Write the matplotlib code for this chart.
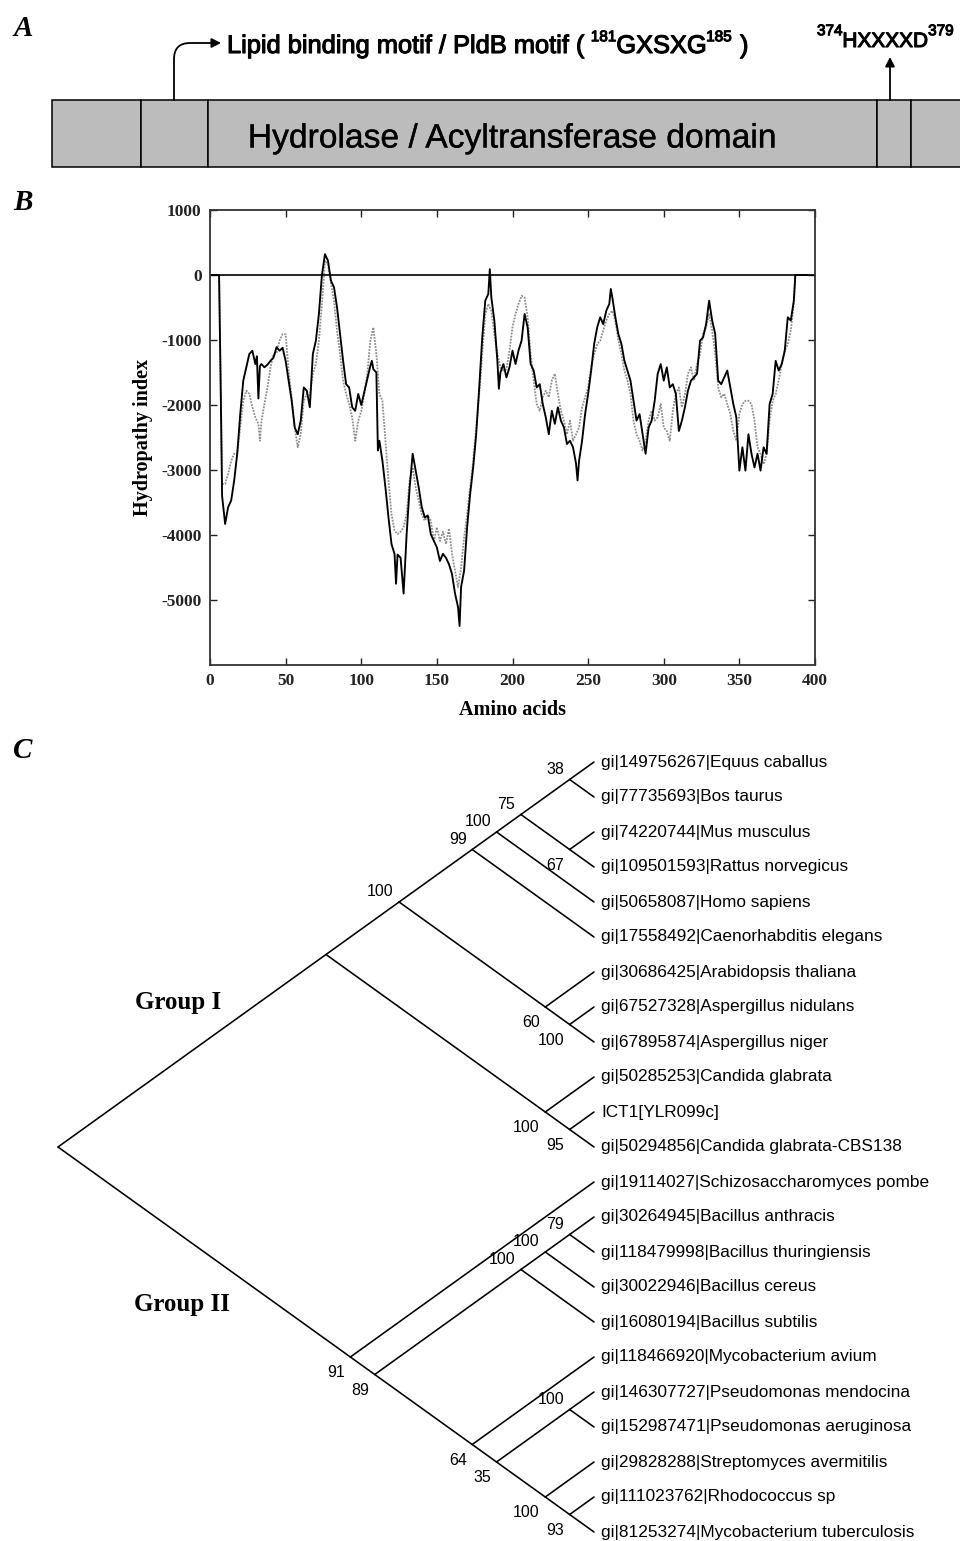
import matplotlib.pyplot as plt
import matplotlib.patheffects as pe
from matplotlib.patches import Rectangle

plt.rcParams['font.family'] = ['Liberation Sans', 'DejaVu Sans']
plt.rcParams['axes.unicode_minus'] = False
SERIF = ['Liberation Serif', 'DejaVu Serif']

# ---------------- data ----------------
# panel A: schematic domain boxes and motif positions
domain_edges = [52, 141, 208, 877, 911, 966]
motif_pos = [174, 890]

# panel B: hydropathy profiles (amino acid position, index)
solid_aa = [0, 6, 7, 8, 10, 12, 14, 16, 18, 20,
            22, 24, 26, 28, 30, 31, 32, 33, 34, 36,
            38, 40, 42, 44, 46, 48, 50, 52, 54, 56,
            58, 60, 62, 64, 66, 68, 70, 72, 74, 76,
            78, 80, 82, 84, 86, 88, 90, 92, 94, 96,
            98, 100, 102, 104, 106, 107, 108, 110, 111, 112,
            114, 116, 118, 120, 122, 123, 124, 126, 128, 130,
            132, 134, 136, 138, 140, 142, 144, 146, 148, 150,
            152, 154, 156, 158, 160, 162, 164, 165, 166, 168,
            170, 172, 174, 176, 178, 180, 182, 184, 185, 186,
            188, 190, 191, 192, 194, 196, 198, 200, 202, 204,
            206, 208, 210, 212, 214, 216, 218, 220, 222, 224,
            226, 228, 230, 232, 234, 236, 238, 240, 242, 243,
            244, 246, 248, 250, 252, 254, 256, 258, 260, 262,
            264, 265, 266, 268, 270, 272, 274, 276, 278, 280,
            282, 284, 286, 288, 290, 292, 294, 296, 298, 300,
            302, 304, 306, 308, 310, 312, 314, 316, 318, 320,
            322, 324, 326, 328, 330, 332, 334, 336, 338, 340,
            342, 344, 346, 348, 350, 352, 354, 356, 358, 360,
            362, 364, 366, 368, 370, 372, 374, 376, 378, 380,
            382, 384, 386, 387, 395]
solid_val = [0, 0, -1600, -3400, -3830, -3570, -3470, -3160, -2750, -2140,
             -1625, -1420, -1215, -1165, -1370, -1250, -1900, -1400, -1370, -1420,
             -1380, -1320, -1270, -1110, -1165, -1120, -1320, -1625, -1935, -2345,
             -2450, -2240, -1730, -1780, -2035, -1215, -1010, -600, 0, 320,
             220, -90, -190, -500, -905, -1320, -1680, -1730, -2035, -2090,
             -1830, -2000, -1800, -1600, -1400, -1320, -1450, -1500, -2700, -2550,
             -2860, -3270, -3730, -4140, -4290, -4750, -4300, -4350, -4900, -3990,
             -3270, -2750, -3010, -3270, -3570, -3730, -3700, -3990, -4090, -4190,
             -4400, -4290, -4350, -4450, -4600, -4900, -5110, -5400, -4800, -4550,
             -3880, -3370, -2960, -2450, -1730, -960, -395, -290, 90, -345,
             -700, -1320, -1750, -1500, -1370, -1575, -1420, -1165, -1370, -1160,
             -1010, -600, -805, -1370, -1470, -1730, -1680, -1985, -2190, -2450,
             -2090, -2290, -2035, -2240, -2345, -2600, -2550, -2650, -2900, -3160,
             -2860, -2550, -2140, -1830, -1470, -1060, -805, -650, -755, -550,
             -445, -215, -345, -650, -910, -1060, -1320, -1470, -1625, -1935,
             -2240, -2140, -2450, -2750, -2345, -2240, -1935, -1520, -1370, -1625,
             -1420, -1730, -1680, -1830, -2400, -2240, -2035, -1780, -1625, -1575,
             -1520, -1010, -960, -755, -395, -700, -905, -1625, -1680, -1575,
             -1470, -1730, -1985, -2190, -3010, -2650, -3010, -2450, -2750, -2960,
             -2750, -3010, -2650, -2750, -1985, -1830, -1320, -1470, -1370, -1165,
             -650, -700, -395, 0, 0]

dotted_aa = [0, 6, 7, 8, 10, 12, 14, 16, 18, 20,
             22, 24, 26, 28, 30, 32, 33, 34, 36, 38,
             40, 42, 44, 46, 48, 50, 52, 54, 56, 58,
             60, 62, 64, 66, 68, 70, 72, 74, 76, 78,
             80, 82, 84, 86, 88, 90, 92, 94, 96, 98,
             100, 102, 104, 106, 108, 110, 112, 114, 116, 118,
             120, 122, 124, 126, 128, 130, 132, 134, 136, 138,
             140, 142, 144, 146, 148, 150, 152, 154, 156, 158,
             160, 162, 164, 166, 168, 170, 172, 174, 176, 178,
             180, 182, 184, 186, 188, 190, 192, 194, 196, 198,
             200, 202, 204, 206, 208, 210, 212, 214, 216, 218,
             220, 222, 224, 226, 228, 230, 232, 234, 236, 238,
             240, 242, 244, 246, 248, 250, 252, 254, 256, 258,
             260, 262, 264, 266, 268, 270, 272, 274, 276, 278,
             280, 282, 284, 286, 288, 290, 292, 294, 296, 298,
             300, 302, 304, 306, 308, 310, 312, 314, 316, 318,
             320, 322, 324, 326, 328, 330, 332, 334, 336, 338,
             340, 342, 344, 346, 348, 350, 352, 354, 356, 358,
             360, 362, 364, 366, 368, 370, 372, 374, 376, 378,
             380, 382, 384, 386, 387, 395]
dotted_val = [0, 0, -1600, -3215, -3215, -3060, -2860, -2750, -2750, -2345,
              -1935, -1780, -1830, -2035, -2190, -2290, -2550, -2250, -1985, -1730,
              -1420, -1215, -1200, -1010, -910, -910, -1470, -1880, -2345, -2650,
              -2450, -1935, -1830, -1850, -1520, -1370, -1010, -445, 220, 170,
              -140, -395, -855, -1215, -1625, -1830, -1985, -2190, -2550, -2240,
              -2100, -1830, -1520, -1010, -805, -1215, -1830, -1935, -2550, -3160,
              -3680, -3930, -3985, -3950, -3880, -3680, -3160, -2960, -3270, -3470,
              -3680, -3780, -3700, -3780, -4090, -3880, -4090, -3950, -4140, -3900,
              -4290, -4550, -4800, -4500, -4040, -3680, -3270, -2860, -2345, -1830,
              -1215, -600, -445, -550, -905, -1215, -1420, -1470, -1450, -1165,
              -800, -600, -445, -320, -345, -650, -1215, -1625, -1985, -2090,
              -1880, -1780, -1880, -1625, -1520, -1830, -2090, -2240, -2450, -2240,
              -2550, -2450, -2345, -2035, -1880, -1730, -1420, -1215, -1060, -1010,
              -855, -700, -600, -550, -700, -1010, -1215, -1470, -1625, -1830,
              -2240, -2450, -2550, -2700, -2550, -2240, -2090, -2240, -2190, -1985,
              -2345, -2400, -2550, -2090, -1830, -1730, -2035, -1830, -1520, -1420,
              -1625, -1370, -1215, -905, -805, -600, -855, -1215, -1730, -1880,
              -1830, -1985, -2140, -2400, -2550, -2140, -1985, -1935, -1935, -1985,
              -2240, -2650, -2750, -2910, -2750, -2240, -1935, -1830, -1625, -1370,
              -1165, -1060, -855, -445, 0, 0]

x_ticks = [0, 50, 100, 150, 200, 250, 300, 350, 400]
y_ticks = [-5000, -4000, -3000, -2000, -1000, 0, 1000]

# panel C: tree
leaf_names = ['gi|149756267|Equus caballus', 'gi|77735693|Bos taurus',
              'gi|74220744|Mus musculus', 'gi|109501593|Rattus norvegicus',
              'gi|50658087|Homo sapiens', 'gi|17558492|Caenorhabditis elegans',
              'gi|30686425|Arabidopsis thaliana', 'gi|67527328|Aspergillus nidulans',
              'gi|67895874|Aspergillus niger', 'gi|50285253|Candida glabrata',
              'ICT1[YLR099c]', 'gi|50294856|Candida glabrata-CBS138',
              'gi|19114027|Schizosaccharomyces pombe', 'gi|30264945|Bacillus anthracis',
              'gi|118479998|Bacillus thuringiensis', 'gi|30022946|Bacillus cereus',
              'gi|16080194|Bacillus subtilis', 'gi|118466920|Mycobacterium avium',
              'gi|146307727|Pseudomonas mendocina', 'gi|152987471|Pseudomonas aeruginosa',
              'gi|29828288|Streptomyces avermitilis', 'gi|111023762|Rhodococcus sp',
              'gi|81253274|Mycobacterium tuberculosis']
group1 = ((((((0, 1), (2, 3)), 4), 5), (6, (7, 8))), (9, (10, 11)))
group2 = (12, ((((13, 14), 15), 16), (17, ((18, 19), (20, (21, 22))))))
tree = (group1, group2)

boot_clades = [(0, 1), (0, 3), (0, 4), (0, 5), (2, 3), (0, 8), (6, 8), (7, 8),
               (9, 11), (10, 11), (12, 22), (13, 22), (13, 14), (13, 15), (13, 16),
               (18, 19), (17, 22), (18, 22), (20, 22), (21, 22)]
boot_values = [38, 75, 100, 99, 67, 100, 60, 100, 100, 95, 91, 89, 79, 100, 100,
               100, 64, 35, 100, 93]
boot_side = ['a', 'a', 'a', 'a', 'b', 'a', 'b', 'b', 'b', 'b', 'b', 'b', 'a', 'a', 'a',
             'a', 'b', 'b', 'b', 'b']

W, H = 960, 1541
fig = plt.figure(figsize=(W / 100, H / 100), dpi=100)

# ---------------- panel A ----------------
ax_a = fig.add_axes([0, 1 - 180 / H, 1, 180 / H])
ax_a.set_xlim(0, W)
ax_a.set_ylim(180, 0)
ax_a.axis('off')
for l, r in zip(domain_edges[:-1], domain_edges[1:]):
    ax_a.add_patch(Rectangle((l, 100), r - l, 67, facecolor='#bcbcbc',
                             edgecolor='black', lw=1.1))
ax_a.text(512, 139, 'Hydrolase / Acyltransferase domain', ha='center', va='center',
          fontsize=24.2, path_effects=[pe.withStroke(linewidth=0.3, foreground='#222222')])

# curved arrow to the lipid binding motif
ax_a.annotate('', xy=(motif_pos[0] + 47, 43), xytext=(motif_pos[0], 100),
              arrowprops=dict(arrowstyle='-|>,head_length=0.55,head_width=0.28',
                              color='black', lw=1.3, shrinkA=0, shrinkB=0,
                              connectionstyle='angle,angleA=90,angleB=0,rad=16'))
ax_a.annotate('', xy=(motif_pos[1], 57), xytext=(motif_pos[1], 100),
              arrowprops=dict(arrowstyle='-|>,head_length=0.55,head_width=0.28',
                              color='black', lw=1.3, shrinkA=0, shrinkB=0))

bold_fx = [pe.withStroke(linewidth=0.8, foreground='black')]


def chain_text(ax, x, y, pieces):
    # pieces: (text, fontsize, rise in points, gap in points)
    prev = None
    for s, size, rise, gap in pieces:
        if prev is None:
            prev = ax.annotate(s, xy=(x, y), xycoords='data', xytext=(gap, rise),
                               textcoords='offset points', fontsize=size,
                               ha='left', va='baseline', path_effects=bold_fx)
        else:
            prev = ax.annotate(s, xy=(1, y), xycoords=(prev, 'data'),
                               xytext=(gap, rise), textcoords='offset points',
                               fontsize=size, ha='left', va='baseline',
                               path_effects=bold_fx)


chain_text(ax_a, 227, 53, [('Lipid binding motif / PldB motif (', 18.3, 0, 0),
                           ('181', 11, 8.5, 4), ('GXSXG', 18.3, 0, 0),
                           ('185', 11, 8.5, 0), (')', 18.3, 0, 6)])
chain_text(ax_a, 817, 47, [('374', 11, 8.5, 0), ('HXXXXD', 15, 0, 0),
                           ('379', 11, 8.5, 0)])

# ---------------- panel B ----------------
ax_b = fig.add_axes([210 / W, (H - 665) / H, 605 / W, 455 / H])
ax_b.plot(dotted_aa, dotted_val, color='#8e8e8e', lw=1.3, ls=(0, (1, 0.7)))
ax_b.plot(solid_aa, solid_val, color='black', lw=1.35)
ax_b.axhline(0, color='black', lw=1.2)
ax_b.set_xlim(0, 400)
ax_b.set_ylim(-6000, 1000)
ax_b.set_xticks(x_ticks)
ax_b.set_yticks(y_ticks)
ax_b.tick_params(direction='in', top=True, right=True, length=5, width=1,
                 labelsize=12.5, pad=6, colors='#222222')
for lab in ax_b.get_xticklabels() + ax_b.get_yticklabels():
    lab.set_family(SERIF)
    lab.set_weight('bold')
for sp in ax_b.spines.values():
    sp.set_linewidth(1.3)
    sp.set_color('#333333')
ax_b.set_xlabel('Amino acids', family=SERIF, weight='bold', fontsize=14.5, labelpad=8)
ax_b.set_ylabel('Hydropathy index', family=SERIF, weight='bold', fontsize=14.5,
                labelpad=6)

# ---------------- panel C ----------------
px_unit = (594 - 58) / 11.0
ax_c = fig.add_axes([0, 0, 1, (H - 730) / H])
ax_c.set_xlim(-11 - 58 / px_unit, (W - 594) / px_unit)
ax_c.set_ylim(22 + (H - 1532) / 35.0, -(762 - 730) / 35.0)
ax_c.axis('off')

node_pos = {}


def draw_clade(node):
    # slanted cladogram: node sits where the diagonals of its outer leaves meet
    if isinstance(node, int):
        return node, node, (0.0, float(node))
    parts = [draw_clade(c) for c in node]
    lo, hi = parts[0][0], parts[-1][1]
    pos = (-(hi - lo) / 2.0, (lo + hi) / 2.0)
    for _, _, cpos in parts:
        ax_c.plot([pos[0], cpos[0]], [pos[1], cpos[1]], color='black', lw=1.15,
                  solid_capstyle='round')
    node_pos[(lo, hi)] = pos
    return lo, hi, pos


draw_clade(tree)

for i, name in enumerate(leaf_names):
    ax_c.text(7 / px_unit, i, name, ha='left', va='center', fontsize=12.4)

for clade, val, side in zip(boot_clades, boot_values, boot_side):
    x, y = node_pos[clade]
    dy = 7.2 if side == 'a' else -11.5
    ax_c.annotate(str(val), xy=(x, y), xytext=(-4.0, dy), textcoords='offset points',
                  ha='right', va='center', fontsize=11.5)

ax_c.text((178 - 594) / px_unit, (1003 - 762) / 35.0, 'Group I', ha='center',
          va='center', fontsize=18, family=SERIF, weight='bold')
ax_c.text((182 - 594) / px_unit, (1305 - 762) / 35.0, 'Group II', ha='center',
          va='center', fontsize=18, family=SERIF, weight='bold')

# panel letters
for letter, yy in [('A', 28), ('B', 202), ('C', 750)]:
    fig.text(23 / W, 1 - yy / H, letter, ha='center', va='center', fontsize=21,
             family=SERIF, weight='bold', style='italic')

fig.savefig('out.png', dpi=100)
